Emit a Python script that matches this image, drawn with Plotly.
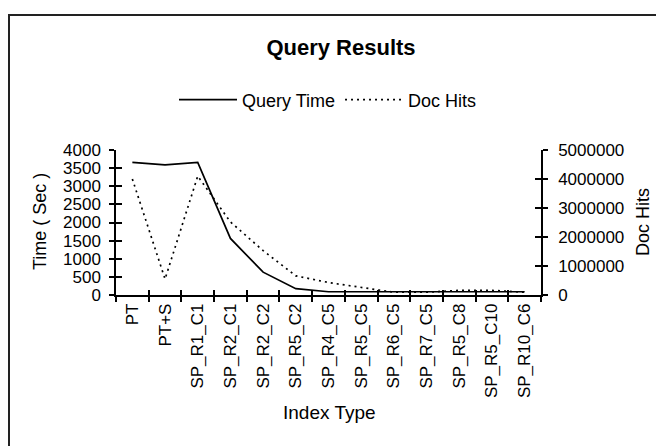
import plotly.graph_objects as go

categories = ["PT", "PT+S", "SP_R1_C1", "SP_R2_C1", "SP_R2_C2", "SP_R5_C2",
              "SP_R4_C5", "SP_R5_C5", "SP_R6_C5", "SP_R7_C5", "SP_R5_C8",
              "SP_R5_C10", "SP_R10_C6"]
query_time = [3660, 3590, 3660, 1560, 630, 175, 90, 90, 90, 90, 90, 90, 90]
doc_hits = [4000000, 550000, 4100000, 2520000, 1530000, 660000, 430000,
            250000, 95000, 95000, 160000, 160000, 95000]
time_ticks = [0, 500, 1000, 1500, 2000, 2500, 3000, 3500, 4000]
hits_ticks = [0, 1000000, 2000000, 3000000, 4000000, 5000000]

FONT = "Liberation Sans, Arial, sans-serif"
# page offset of the plot inside the browser window (body margin)
OX, OY = 8, 8
W, H = 656, 438
# plot area in screenshot pixels
SL, SR, ST, SB = 116, 541, 150, 295
L, R, T, B = SL - OX, SR - OX, ST - OY, SB - OY
pw, ph = R - L, B - T

def px(x):
    return (x - OX - L) / pw

def py(y):
    return (B - (y - OY)) / ph

fig = go.Figure()
fig.add_trace(go.Scatter(x=categories, y=query_time, name="Query Time",
                         mode="lines", line=dict(color="black", width=1.7),
                         xaxis="x", yaxis="y"))
fig.add_trace(go.Scatter(x=categories, y=doc_hits, name="Doc Hits",
                         mode="lines",
                         line=dict(color="black", width=1.7, dash="2px,4px"),
                         xaxis="x", yaxis="y2"))
# invisible helpers so the inner halves of the cross tick marks are drawn
fig.add_trace(go.Scatter(x=categories, y=[None] * len(categories),
                         showlegend=False, hoverinfo="skip",
                         xaxis="x2", yaxis="y3"))
fig.add_trace(go.Scatter(x=categories, y=[None] * len(categories),
                         showlegend=False, hoverinfo="skip",
                         xaxis="x2", yaxis="y4"))

axis_common = dict(showgrid=False, zeroline=False, linecolor="black",
                   linewidth=1.5, tickcolor="black", tickwidth=1.5,
                   tickfont=dict(family=FONT, size=17, color="black"))

fig.update_layout(
    width=W, height=H,
    margin=dict(l=L, r=W - R, t=T, b=H - B, pad=0),
    paper_bgcolor="white", plot_bgcolor="white",
    font=dict(family=FONT, size=18, color="black"),
    showlegend=True,
    legend=dict(orientation="h", x=px(328), xanchor="center",
                y=py(100), yanchor="middle", itemwidth=58,
                font=dict(family=FONT, size=18, color="black"),
                bgcolor="rgba(0,0,0,0)", tracegroupgap=0),
    title=dict(text="<b>Query Results</b>", x=(341 - OX) / W, xref="container",
               xanchor="center", y=1 - (47 - OY) / H, yref="container",
               yanchor="middle",
               font=dict(family=FONT, size=22, color="black")),
    xaxis=dict(type="category", categoryorder="array", categoryarray=categories,
               range=[-0.5, len(categories) - 0.5], tickson="boundaries",
               ticks="outside", ticklen=5, showline=True, tickangle=-90,
               ticklabelstandoff=0, **axis_common),
    xaxis2=dict(type="category", categoryorder="array", categoryarray=categories,
                range=[-0.5, len(categories) - 0.5], tickson="boundaries",
                overlaying="x", ticks="inside", ticklen=5, showline=False,
                showticklabels=False, **axis_common),
    yaxis=dict(range=[0, 4000], tickvals=time_ticks, ticks="outside",
               ticklen=5, showline=True, ticklabelstandoff=5, **axis_common),
    yaxis2=dict(range=[0, 5000000], tickvals=hits_ticks, tickformat="d",
                overlaying="y", side="right", ticks="outside", ticklen=5,
                showline=True, ticklabelstandoff=7, **axis_common),
    yaxis3=dict(range=[0, 4000], tickvals=time_ticks, overlaying="y",
                side="left", ticks="inside", ticklen=6, showline=False,
                showticklabels=False, **axis_common),
    yaxis4=dict(range=[0, 5000000], tickvals=hits_ticks, overlaying="y",
                side="right", ticks="inside", ticklen=6, showline=False,
                showticklabels=False, **axis_common),
    annotations=[
        dict(text="Time ( Sec )", x=px(40), y=py(222), xref="paper",
             yref="paper", textangle=-90, showarrow=False,
             xanchor="center", yanchor="middle",
             font=dict(family=FONT, size=18, color="black")),
        dict(text="Doc Hits", x=px(643), y=py(222), xref="paper",
             yref="paper", textangle=-90, showarrow=False,
             xanchor="center", yanchor="middle",
             font=dict(family=FONT, size=18, color="black")),
        dict(text="Index Type", x=px(329), y=py(412), xref="paper",
             yref="paper", showarrow=False, xanchor="center",
             yanchor="middle",
             font=dict(family=FONT, size=19, color="black")),
    ],
    shapes=[dict(type="rect", xref="paper", yref="paper",
                 x0=px(9), x1=px(661), y0=py(480), y1=py(15),
                 line=dict(color="#222222", width=2), fillcolor="rgba(0,0,0,0)",
                 layer="below")],
)

fig.write_html("out.html")
